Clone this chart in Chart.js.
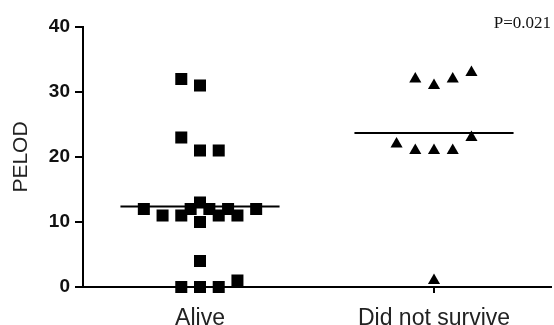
<!DOCTYPE html>
<html lang="en">
<head>
    <meta charset="UTF-8">
    <title>PELOD</title>
    <script src="https://cdn.jsdelivr.net/npm/chart.js"></script>
    <style>
        body {
            margin: 0;
            padding: 0;
            background-color: #fff;
        }

        #chart-box {
            width: 554px;
            height: 325px;
        }
    </style>
</head>
<body>
    <div id="chart-box">
        <canvas id="pelodChart"></canvas>
    </div>

    <script>
        // categorias e valores
        var categories = ['Alive', 'Did not survive'];

        var aliveValues = [32, 31, 23, 21, 21, 12, 11, 11, 12, 13, 12, 11, 12, 11, 12, 10, 4, 0, 0, 0, 1];
        var aliveJitter = [-0.08, 0, -0.08, 0, 0.08, -0.24, -0.16, -0.08, -0.04, 0, 0.04, 0.08, 0.12, 0.16, 0.24, 0, 0, -0.08, 0, 0.08, 0.16];

        var diedValues = [32, 31, 32, 33, 22, 21, 21, 21, 23, 1];
        var diedJitter = [-0.08, 0, 0.08, 0.16, -0.16, -0.08, 0, 0.08, 0.16, 0];

        var meanValues = [12.4, 23.7];
        var yTicks = [0, 10, 20, 30, 40];
        var pValueText = 'P=0.021';

        var fontSans = 'Arial, "Liberation Sans", Helvetica, sans-serif';
        var halfLine = 0.34;

        function toPoints(values, jitter, pos) {
            return values.map(function (v, i) {
                return { x: pos + jitter[i], y: v };
            });
        }

        function meanLine(i) {
            return {
                type: 'line',
                data: [{ x: i + 1 - halfLine, y: meanValues[i] }, { x: i + 1 + halfLine, y: meanValues[i] }],
                borderColor: '#000',
                borderWidth: 2,
                pointRadius: 0,
                showLine: true,
                fill: false,
                clip: false
            };
        }

        // texto do valor de p no canto superior direito
        var pValuePlugin = {
            id: 'pValue',
            afterDraw: function (chart) {
                var ctx = chart.ctx;
                var area = chart.chartArea;
                ctx.save();
                ctx.font = '17px "Times New Roman", "Liberation Serif", serif';
                ctx.fillStyle = '#111';
                ctx.textAlign = 'right';
                ctx.textBaseline = 'middle';
                ctx.fillText(pValueText, area.right, area.top - 3);
                ctx.restore();
            }
        };

        var ctx = document.getElementById('pelodChart').getContext('2d');
        var chart = new Chart(ctx, {
            type: 'scatter',
            data: {
                datasets: [
                    meanLine(0),
                    meanLine(1),
                    {
                        label: categories[0],
                        data: toPoints(aliveValues, aliveJitter, 1),
                        pointStyle: 'rect',
                        pointRadius: 8.5,
                        pointBackgroundColor: '#000',
                        pointBorderColor: '#000',
                        pointBorderWidth: 0,
                        clip: false
                    },
                    {
                        label: categories[1],
                        data: toPoints(diedValues, diedJitter, 2),
                        pointStyle: 'triangle',
                        pointRadius: 7,
                        pointBackgroundColor: '#000',
                        pointBorderColor: '#000',
                        pointBorderWidth: 0,
                        clip: false
                    }
                ]
            },
            options: {
                responsive: true,
                maintainAspectRatio: false,
                animation: false,
                layout: {
                    autoPadding: false,
                    padding: { top: 27, right: 3, bottom: 0, left: 0 }
                },
                plugins: {
                    legend: { display: false },
                    tooltip: { enabled: false }
                },
                scales: {
                    x: {
                        type: 'linear',
                        min: 0.5,
                        max: 2.5,
                        afterBuildTicks: function (scale) {
                            scale.ticks = categories.map(function (c, i) { return { value: i + 1 }; });
                        },
                        afterFit: function (scale) {
                            scale.height = 38;
                            scale.paddingLeft = 0;
                            scale.paddingRight = 0;
                        },
                        ticks: {
                            color: '#222',
                            padding: 12,
                            font: { family: fontSans, size: 23 },
                            callback: function (value) {
                                return categories[value - 1];
                            }
                        },
                        grid: {
                            drawOnChartArea: false,
                            drawTicks: true,
                            tickLength: 6,
                            color: '#000',
                            lineWidth: 2
                        },
                        border: { display: true, color: '#000', width: 2 }
                    },
                    y: {
                        min: 0,
                        max: 40,
                        afterBuildTicks: function (scale) {
                            scale.ticks = yTicks.map(function (v) { return { value: v }; });
                        },
                        afterFit: function (scale) {
                            scale.width = 83;
                        },
                        title: {
                            display: true,
                            text: 'PELOD',
                            color: '#222',
                            font: { family: fontSans, size: 21 },
                            padding: { top: 9, bottom: 0 }
                        },
                        ticks: {
                            color: '#111',
                            padding: 5,
                            font: { family: fontSans, size: 19, weight: 'bold' }
                        },
                        grid: {
                            drawOnChartArea: false,
                            drawTicks: true,
                            tickLength: 8,
                            color: '#000',
                            lineWidth: 2
                        },
                        border: { display: true, color: '#000', width: 2 }
                    }
                }
            },
            plugins: [pValuePlugin]
        });
    </script>
</body>
</html>
